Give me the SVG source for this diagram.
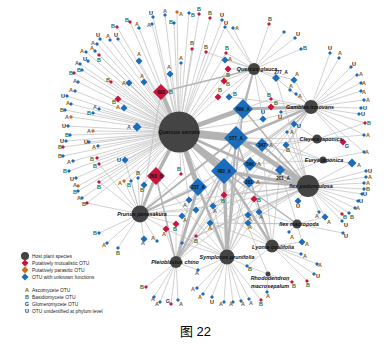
<svg xmlns="http://www.w3.org/2000/svg" xmlns:xlink="http://www.w3.org/1999/xlink" width="389" height="344" viewBox="0 0 389 344">
<style>
.e{stroke:#b8b8b8;stroke-width:.65;fill:none}
.w{stroke:#b3b3b3;fill:none}
.h{fill:#444}
.b{fill:#1c6cbc}.r{fill:#c8163c}.o{fill:#cf6a1b}
.A,.B,.U,.G{font:bold 5.5px "Liberation Sans",sans-serif;text-anchor:middle}
.A{fill:#8a5a17}.B{fill:#2f6e3f}.U{fill:#1a1a1a}.G{fill:#25308a}
.hl{font:italic bold 5.4px "Liberation Sans",sans-serif;text-anchor:middle;fill:#111}
.dl{font:bold 4.6px "Liberation Sans",sans-serif;text-anchor:middle;fill:#111}
.lg{font:4.9px "Liberation Sans",sans-serif;fill:#222}
.cap{font:13px "Liberation Sans","Noto Sans CJK SC",sans-serif;fill:#000}
</style>
<defs>
<path id="s" d="M0-2L2 0 0 2-2 0Z"/>
<path id="m" d="M0-3.5L3.5 0 0 3.5-3.5 0Z"/>
<path id="L" d="M0-4.5L4.5 0 0 4.5-4.5 0Z"/>
</defs>
<rect width="389" height="344" fill="#fff"/>
<g id="connectors">
<g id="thick">
<path class="w" stroke-width="8" d="M179 132L236 138"/>
<path class="w" stroke-width="6.5" d="M179 132L224 171"/>
<path class="w" stroke-width="5" d="M179 132L243 109"/>
<path class="w" stroke-width="5" d="M179 132L198 187"/>
<path class="w" stroke-width="4" d="M179 132L161 92"/>
<path class="w" stroke-width="3.5" d="M179 132L156 176"/>
<path class="w" stroke-width="2.5" d="M179 132L262 145M179 132L250 164"/>
<path class="w" stroke-width="2" d="M179 132L249 182"/>
<path class="w" stroke-width="5" d="M236 138L308 186"/>
<path class="w" stroke-width="3.5" d="M224 171L308 186M224 171L227 257"/>
<path class="w" stroke-width="2.5" d="M224 171L272 246M236 138L311 107M198 187L227 257M250 164L308 186"/>
<path class="w" stroke-width="3" d="M243 109L311 107M198 187L176 262M156 176L140 214"/>
<path class="w" stroke-width="2" d="M236 138L227 257M236 138L140 214M243 109L254 69M198 187L140 214M262 145L308 186M249 182L308 186M280 170L308 186M224 171L176 262"/>
<path class="w" stroke-width="1.5" d="M161 92L254 69M243 109L308 186M236 138L272 246M224 171L297 224M243 109L227 257M156 176L176 262"/>
</g>
<path id="e-QS" class="e" d="M179 132L117 27M179 132L130 22M179 132L139 28M179 132L153 17M179 132L165 15M179 132L177 12M179 132L189 13M179 132L174 23M179 132L152 24M179 132L100 39M179 132L110 40M179 132L118 39M179 132L97 44M179 132L95 51M179 132L86 52M179 132L88 61M179 132L99 55M179 132L80 64M179 132L82 70M179 132L74 73M179 132L78 82M179 132L75 91M179 132L67 96M179 132L71 104M179 132L65 110M179 132L71 117M179 132L68 126M179 132L70 135M179 132L66 141M179 132L63 147M179 132L63 156M179 132L73 161M179 132L99 164M179 132L69 171M179 132L76 178M179 132L78 186M179 132L78 191M179 132L99 182M179 132L82 198M179 132L87 203M179 132L139 61M179 132L144 82M179 132L111 82M179 132L129 83M179 132L170 74M179 132L181 63M179 132L192 49M179 132L118 99M179 132L99 109M179 132L124 108M179 132L93 113M179 132L137 127M179 132L93 131M179 132L89 142M179 132L98 146M179 132L97 158M179 132L125 160M179 132L124 181M179 132L131 181M179 132L138 178M179 132L144 185M179 132L199 14M179 132L210 18M179 132L222 20M179 132L225 27M179 132L206 52M179 132L226 53M179 132L228 69M179 132L224 81M179 132L218 97M179 132L181 174M179 132L189 200M179 132L213 206M179 132L224 195M179 132L271 99M179 132L263 119"/>
<path id="e-QG" class="e" d="M254 69L233 28M254 69L225 27M254 69L269 24M254 69L284 32M254 69L295 38M254 69L301 49M254 69L206 52M254 69L226 53M254 69L225 60M254 69L228 69M254 69L224 81M254 69L218 97M254 69L229 97M254 69L276 78M254 69L271 99M254 69L263 119M254 69L236 138M254 69L224 195M254 69L213 206M254 69L294 80"/>
<path id="e-GI" class="e" d="M311 107L330 53M311 107L339 58M311 107L351 67M311 107L357 75M311 107L361 83M311 107L361 91M311 107L364 100M311 107L361 108M311 107L359 114M311 107L365 123M311 107L364 135M311 107L343 142M311 107L364 152M311 107L294 80M311 107L290 90M311 107L296 94M311 107L271 99M311 107L271 107M311 107L281 112M311 107L263 119M311 107L294 124M311 107L287 132M311 107L286 145M311 107L276 78M311 107L262 145M311 107L224 171M311 107L189 200M311 107L213 206M311 107L182 216M311 107L254 199M311 107L229 97M311 107L198 187"/>
<path id="e-CJ" class="e" d="M317 139L343 142M317 139L364 135M317 139L365 123M317 139L286 145M317 139L294 124M317 139L236 138M317 139L262 145M317 139L210 223"/>
<path id="e-EJ" class="e" d="M323 160L352 163M323 160L364 152M323 160L286 145M323 160L250 164M323 160L236 138M323 160L196 210"/>
<path id="e-IP" class="e" d="M308 186L352 163M308 186L366 171M308 186L366 177M308 186L364 183M308 186L364 189M308 186L362 194M308 186L358 201M308 186L355 208M308 186L342 214M308 186L349 213M308 186L342 221M308 186L298 201M308 186L319 212M308 186L325 217M308 186L286 145M308 186L294 124M308 186L287 132M308 186L259 212M308 186L254 199M308 186L248 215M308 186L248 223M308 186L224 195M308 186L213 206M308 186L196 236M308 186L189 200M308 186L182 243M308 186L276 78"/>
<path id="e-IM" class="e" d="M297 224L343 233M297 224L289 232M297 224L325 217M297 224L302 242M297 224L248 223M297 224L259 212M297 224L280 170M297 224L210 223"/>
<path id="e-LO" class="e" d="M272 246L302 242M272 246L301 254M272 246L317 264M272 246L314 274M272 246L307 281M272 246L247 266M272 246L248 223M272 246L259 212M272 246L210 223M272 246L262 145M272 246L280 170M272 246L213 206M272 246L254 199"/>
<path id="e-RM" class="e" d="M268 274L292 282M268 274L267 292M268 274L247 266M268 274L224 171"/>
<path id="e-SP" class="e" d="M227 257L197 288M227 257L203 294M227 257L212 297M227 257L224 302M227 257L233 302M227 257L241 301M227 257L249 299M227 257L261 300M227 257L247 266M227 257L198 270M227 257L210 223M227 257L213 206M227 257L224 195M227 257L254 199M227 257L182 243M227 257L196 236M227 257L243 109M227 257L250 164M227 257L249 182M227 257L156 176M227 257L248 215M227 257L259 212M227 257L166 229"/>
<path id="e-PC" class="e" d="M176 262L146 287M176 262L154 297M176 262L160 302M176 262L171 304M176 262L178 300M176 262L198 270M176 262L182 243M176 262L196 236M176 262L165 229M176 262L176 224M176 262L189 200M176 262L213 206M176 262L250 164M176 262L236 138M176 262L224 195M176 262L254 199M176 262L210 223M176 262L311 107"/>
<path id="e-PJ" class="e" d="M140 214L99 233M140 214L107 243M140 214L118 248M140 214L144 239M140 214L157 241M140 214L166 229M140 214L176 224M140 214L99 164M140 214L99 182M140 214L124 181M140 214L131 181M140 214L138 178M140 214L144 185M140 214L125 160M140 214L189 200M140 214L182 216M140 214L196 210M140 214L224 171M140 214L161 92M140 214L181 174M140 214L213 206M140 214L87 203"/>
</g>
<g id="leaves">
<g id="n1"><use href="#s" x="117" y="27" class="r"/><text x="113" y="28" class="B">B</text></g>
<g id="n2"><use href="#s" x="130" y="22" class="r"/><text x="127" y="22" class="B">B</text></g>
<g id="n3"><use href="#s" x="139" y="28" class="b"/><text x="137" y="26" class="A">A</text></g>
<g id="n4"><use href="#s" x="153" y="17" class="b"/><text x="151" y="15" class="U">U</text></g>
<g id="n5"><use href="#s" x="165" y="15" class="b"/><text x="165" y="13" class="A">A</text></g>
<g id="n6"><use href="#s" x="177" y="12" class="o"/><text x="181" y="16" class="A">A</text></g>
<g id="n7"><use href="#s" x="189" y="13" class="b"/><text x="193" y="17" class="B">B</text></g>
<g id="n8"><use href="#s" x="174" y="23" class="b"/><text x="171" y="24" class="B">B</text></g>
<g id="n9"><use href="#s" x="152" y="24" class="b"/><text x="149" y="27" class="A">A</text></g>
<g id="n10"><use href="#s" x="100" y="39" class="b"/><text x="98" y="37" class="U">U</text></g>
<g id="n11"><use href="#s" x="110" y="40" class="b"/><text x="108" y="38" class="A">A</text></g>
<g id="n12"><use href="#s" x="118" y="39" class="b"/><text x="116" y="37" class="U">U</text></g>
<g id="n13"><use href="#s" x="97" y="44" class="b"/><text x="93" y="45" class="A">A</text></g>
<g id="n14"><use href="#s" x="95" y="51" class="b"/><text x="92" y="50" class="A">A</text></g>
<g id="n15"><use href="#s" x="86" y="52" class="b"/><text x="82" y="53" class="A">A</text></g>
<g id="n16"><use href="#s" x="88" y="61" class="b"/><text x="85" y="61" class="U">U</text></g>
<g id="n17"><use href="#s" x="99" y="55" class="r"/><text x="99" y="62" class="B">B</text></g>
<g id="n18"><use href="#s" x="80" y="64" class="b"/><text x="77" y="65" class="A">A</text></g>
<g id="n19"><use href="#s" x="82" y="70" class="b"/><text x="79" y="72" class="B">B</text></g>
<g id="n20"><use href="#s" x="74" y="73" class="r"/><text x="71" y="75" class="B">B</text></g>
<g id="n21"><use href="#s" x="78" y="82" class="b"/><text x="75" y="83" class="A">A</text></g>
<g id="n22"><use href="#s" x="75" y="91" class="b"/><text x="71" y="92" class="A">A</text></g>
<g id="n23"><use href="#s" x="67" y="96" class="b"/><text x="63" y="98" class="U">U</text></g>
<g id="n24"><use href="#s" x="71" y="104" class="b"/><text x="68" y="105" class="A">A</text></g>
<g id="n25"><use href="#s" x="65" y="110" class="b"/><text x="62" y="112" class="B">B</text></g>
<g id="n26"><use href="#s" x="71" y="117" class="o"/><text x="67" y="119" class="A">A</text></g>
<g id="n27"><use href="#s" x="68" y="126" class="b"/><text x="64" y="128" class="U">U</text></g>
<g id="n28"><use href="#s" x="70" y="135" class="b"/><text x="67" y="137" class="B">B</text></g>
<g id="n29"><use href="#s" x="66" y="141" class="b"/><text x="62" y="143" class="U">U</text></g>
<g id="n30"><use href="#s" x="63" y="147" class="r"/><text x="60" y="149" class="B">B</text></g>
<g id="n31"><use href="#s" x="63" y="156" class="b"/><text x="60" y="158" class="B">B</text></g>
<g id="n32"><use href="#s" x="73" y="161" class="b"/><text x="69" y="164" class="A">A</text></g>
<g id="n33"><use href="#s" x="99" y="164" class="r"/><text x="95" y="168" class="B">B</text></g>
<g id="n34"><use href="#s" x="69" y="171" class="b"/><text x="65" y="173" class="B">B</text></g>
<g id="n35"><use href="#s" x="76" y="178" class="b"/><text x="72" y="181" class="U">U</text></g>
<g id="n36"><use href="#s" x="78" y="186" class="o"/><text x="75" y="187" class="A">A</text></g>
<g id="n37"><use href="#s" x="78" y="191" class="b"/><text x="75" y="194" class="B">B</text></g>
<g id="n38"><use href="#s" x="99" y="182" class="r"/><text x="99" y="189" class="B">B</text></g>
<g id="n39"><use href="#s" x="82" y="198" class="b"/><text x="79" y="200" class="A">A</text></g>
<g id="n40"><use href="#s" x="87" y="203" class="r"/><text x="84" y="206" class="B">B</text></g>
<g id="n41"><use href="#m" x="139" y="61" class="b"/><text x="139" y="56" class="A">A</text></g>
<g id="n42"><use href="#m" x="144" y="82" class="b"/><text x="142" y="78" class="A">A</text></g>
<g id="n43"><use href="#s" x="111" y="82" class="r"/><text x="108" y="82" class="B">B</text></g>
<g id="n44"><use href="#m" x="129" y="83" class="b"/><text x="124" y="85" class="A">A</text></g>
<g id="n45"><use href="#m" x="170" y="74" class="b"/><text x="169" y="69" class="A">A</text></g>
<g id="n46"><use href="#s" x="181" y="63" class="b"/><text x="181" y="60" class="A">A</text></g>
<g id="n47"><use href="#s" x="192" y="49" class="r"/><text x="192" y="45" class="B">B</text></g>
<g id="n48"><use href="#m" x="118" y="99" class="r"/><text x="114" y="104" class="B">B</text></g>
<g id="n49"><use href="#s" x="99" y="109" class="b"/><text x="95" y="109" class="A">A</text></g>
<g id="n50"><use href="#m" x="124" y="108" class="b"/><text x="118" y="109" class="A">A</text></g>
<g id="n51"><use href="#s" x="93" y="113" class="b"/><text x="89" y="115" class="B">B</text></g>
<g id="n52"><use href="#L" x="137" y="127" class="b"/><text x="129" y="129" class="A">A</text></g>
<g id="n53"><use href="#s" x="93" y="131" class="o"/><text x="89" y="133" class="A">A</text></g>
<g id="n54"><use href="#s" x="89" y="142" class="b"/><text x="86" y="144" class="U">U</text></g>
<g id="n55"><use href="#s" x="98" y="146" class="b"/><text x="94" y="149" class="A">A</text></g>
<g id="n56"><use href="#s" x="97" y="158" class="r"/><text x="92" y="161" class="B">B</text></g>
<g id="n57"><use href="#m" x="125" y="160" class="b"/><text x="119" y="162" class="U">U</text></g>
<g id="n59"><use href="#s" x="124" y="181" class="o"/><text x="120" y="185" class="A">A</text></g>
<g id="n60"><use href="#s" x="131" y="181" class="b"/><text x="129" y="187" class="B">B</text></g>
<g id="n61"><use href="#s" x="138" y="178" class="b"/><text x="138" y="175" class="B">B</text></g>
<g id="n62"><use href="#m" x="144" y="185" class="b"/><text x="142" y="192" class="B">B</text></g>
<g id="n63"><use href="#s" x="199" y="14" class="r"/><text x="199" y="11" class="B">B</text></g>
<g id="n64"><use href="#s" x="210" y="18" class="r"/><text x="210" y="15" class="B">B</text></g>
<g id="n65"><use href="#s" x="222" y="20" class="b"/><text x="222" y="17" class="U">U</text></g>
<g id="n66"><use href="#s" x="225" y="27" class="b"/><text x="226" y="25" class="U">U</text></g>
<g id="n67"><use href="#s" x="233" y="28" class="b"/><text x="237" y="30" class="A">A</text></g>
<g id="n68"><use href="#s" x="269" y="24" class="r"/><text x="270" y="21" class="B">B</text></g>
<g id="n69"><use href="#s" x="284" y="32" class="b"/></g>
<g id="n70"><use href="#s" x="295" y="38" class="b"/><text x="298" y="36" class="U">U</text></g>
<g id="n71"><use href="#s" x="301" y="49" class="b"/><text x="305" y="50" class="B">B</text></g>
<g id="n72"><use href="#s" x="206" y="52" class="r"/><text x="206" y="49" class="B">B</text></g>
<g id="n73"><use href="#s" x="226" y="53" class="r"/><text x="227" y="50" class="B">B</text></g>
<g id="n74"><use href="#m" x="225" y="60" class="b"/><text x="230" y="61" class="A">A</text></g>
<g id="n75"><use href="#m" x="228" y="69" class="r"/><text x="228" y="77" class="B">B</text></g>
<g id="n76"><use href="#m" x="224" y="81" class="r"/><text x="228" y="86" class="B">B</text></g>
<g id="n77"><use href="#m" x="218" y="97" class="r"/><text x="220" y="92" class="B">B</text></g>
<g id="n78"><use href="#m" x="229" y="97" class="b"/><text x="235" y="96" class="B">B</text></g>
<g id="n80"><use href="#s" x="330" y="53" class="b"/><text x="330" y="50" class="U">U</text></g>
<g id="n81"><use href="#s" x="339" y="58" class="b"/><text x="340" y="55" class="A">A</text></g>
<g id="n82"><use href="#s" x="351" y="67" class="b"/><text x="354" y="66" class="U">U</text></g>
<g id="n83"><use href="#s" x="357" y="75" class="b"/><text x="361" y="76" class="A">A</text></g>
<g id="n84"><use href="#s" x="361" y="83" class="b"/><text x="364" y="85" class="A">A</text></g>
<g id="n85"><use href="#s" x="361" y="91" class="b"/><text x="364" y="94" class="A">A</text></g>
<g id="n86"><use href="#s" x="364" y="100" class="b"/><text x="368" y="102" class="A">A</text></g>
<g id="n87"><use href="#s" x="361" y="108" class="b"/><text x="365" y="110" class="U">U</text></g>
<g id="n88"><use href="#s" x="359" y="114" class="b"/><text x="363" y="116" class="U">U</text></g>
<g id="n89"><use href="#s" x="365" y="123" class="r"/><text x="369" y="125" class="B">B</text></g>
<g id="n90"><use href="#s" x="364" y="135" class="b"/><text x="368" y="137" class="A">A</text></g>
<g id="n91"><use href="#m" x="343" y="142" class="r"/><text x="347" y="148" class="G">G</text></g>
<g id="n92"><use href="#s" x="364" y="152" class="b"/><text x="367" y="154" class="A">A</text></g>
<g id="n93"><use href="#m" x="294" y="80" class="b"/><text x="297" y="76" class="A">A</text></g>
<g id="n94"><use href="#s" x="290" y="90" class="b"/><text x="291" y="88" class="A">A</text></g>
<g id="n95"><use href="#s" x="296" y="94" class="b"/><text x="300" y="98" class="A">A</text></g>
<g id="n96"><use href="#s" x="271" y="99" class="r"/><text x="269" y="97" class="B">B</text></g>
<g id="n97"><use href="#m" x="271" y="107" class="r"/><text x="276" y="105" class="B">B</text></g>
<g id="n98"><use href="#s" x="281" y="112" class="b"/><text x="280" y="119" class="U">U</text></g>
<g id="n99"><use href="#m" x="263" y="119" class="b"/><text x="263" y="114" class="U">U</text></g>
<g id="n100"><use href="#m" x="294" y="124" class="b"/><text x="299" y="128" class="U">U</text></g>
<g id="n101"><use href="#s" x="287" y="132" class="b"/><text x="292" y="134" class="A">A</text></g>
<g id="n102"><use href="#m" x="286" y="145" class="b"/><text x="288" y="152" class="B">B</text></g>
<g id="n103"><use href="#L" x="352" y="163" class="b"/><text x="359" y="167" class="A">A</text></g>
<g id="n104"><use href="#s" x="366" y="171" class="b"/><text x="370" y="173" class="U">U</text></g>
<g id="n105"><use href="#s" x="366" y="177" class="b"/><text x="370" y="179" class="A">A</text></g>
<g id="n106"><use href="#s" x="364" y="183" class="b"/><text x="368" y="185" class="A">A</text></g>
<g id="n107"><use href="#s" x="364" y="189" class="b"/><text x="368" y="191" class="B">B</text></g>
<g id="n108"><use href="#s" x="362" y="194" class="b"/><text x="365" y="196" class="U">U</text></g>
<g id="n109"><use href="#s" x="358" y="201" class="b"/><text x="361" y="203" class="U">U</text></g>
<g id="n110"><use href="#s" x="355" y="208" class="b"/><text x="358" y="210" class="A">A</text></g>
<g id="n111"><use href="#s" x="342" y="214" class="r"/><text x="345" y="219" class="B">B</text></g>
<g id="n112"><use href="#s" x="349" y="213" class="b"/><text x="352" y="219" class="B">B</text></g>
<g id="n113"><use href="#s" x="342" y="221" class="b"/><text x="346" y="227" class="U">U</text></g>
<g id="n114"><use href="#m" x="298" y="201" class="b"/><text x="298" y="208" class="U">U</text></g>
<g id="n115"><use href="#s" x="319" y="212" class="b"/><text x="317" y="218" class="A">A</text></g>
<g id="n116"><use href="#m" x="325" y="217" class="b"/><text x="329" y="224" class="A">A</text></g>
<g id="n117"><use href="#s" x="343" y="233" class="b"/><text x="346" y="238" class="U">U</text></g>
<g id="n118"><use href="#s" x="289" y="232" class="b"/><text x="292" y="239" class="A">A</text></g>
<g id="n119"><use href="#m" x="302" y="242" class="b"/><text x="307" y="246" class="A">A</text></g>
<g id="n120"><use href="#s" x="301" y="254" class="b"/><text x="305" y="258" class="A">A</text></g>
<g id="n121"><use href="#s" x="317" y="264" class="b"/><text x="320" y="267" class="A">A</text></g>
<g id="n122"><use href="#s" x="314" y="274" class="b"/><text x="318" y="278" class="U">U</text></g>
<g id="n123"><use href="#s" x="307" y="281" class="r"/><text x="308" y="287" class="B">B</text></g>
<g id="n124"><use href="#s" x="292" y="282" class="r"/><text x="294" y="288" class="B">B</text></g>
<g id="n125"><use href="#s" x="267" y="292" class="b"/><text x="268" y="298" class="A">A</text></g>
<g id="n126"><use href="#s" x="197" y="288" class="b"/><text x="193" y="291" class="A">A</text></g>
<g id="n127"><use href="#s" x="203" y="294" class="b"/><text x="200" y="299" class="A">A</text></g>
<g id="n128"><use href="#s" x="212" y="297" class="b"/><text x="212" y="304" class="U">U</text></g>
<g id="n129"><use href="#s" x="224" y="302" class="b"/><text x="221" y="306" class="A">A</text></g>
<g id="n130"><use href="#s" x="233" y="302" class="b"/><text x="231" y="306" class="A">A</text></g>
<g id="n131"><use href="#s" x="241" y="301" class="b"/><text x="243" y="306" class="A">A</text></g>
<g id="n132"><use href="#s" x="249" y="299" class="b"/><text x="251" y="305" class="A">A</text></g>
<g id="n133"><use href="#s" x="261" y="300" class="r"/><text x="261" y="306" class="B">B</text></g>
<g id="n134"><use href="#s" x="247" y="266" class="b"/><text x="250" y="271" class="B">B</text></g>
<g id="n135"><use href="#s" x="198" y="270" class="b"/><text x="197" y="275" class="A">A</text></g>
<g id="n136"><use href="#s" x="146" y="287" class="r"/><text x="142" y="289" class="B">B</text></g>
<g id="n137"><use href="#s" x="154" y="297" class="b"/><text x="153" y="301" class="A">A</text></g>
<g id="n138"><use href="#s" x="160" y="302" class="b"/><text x="157" y="306" class="A">A</text></g>
<g id="n139"><use href="#s" x="171" y="304" class="r"/><text x="168" y="303" class="G">G</text></g>
<g id="n140"><use href="#s" x="178" y="300" class="b"/><text x="181" y="306" class="A">A</text></g>
<g id="n141"><use href="#s" x="99" y="233" class="b"/><text x="95" y="235" class="B">B</text></g>
<g id="n142"><use href="#s" x="107" y="243" class="b"/><text x="104" y="247" class="A">A</text></g>
<g id="n143"><use href="#s" x="118" y="248" class="b"/><text x="118" y="255" class="B">B</text></g>
<g id="n144"><use href="#m" x="144" y="239" class="b"/><text x="143" y="245" class="A">A</text></g>
<g id="n145"><use href="#s" x="157" y="241" class="b"/><text x="153" y="240" class="A">A</text></g>
<g id="n146"><use href="#m" x="166" y="229" class="r"/><text x="164" y="236" class="A">A</text></g>
<g id="n147"><use href="#m" x="176" y="224" class="r"/><text x="175" y="231" class="B">B</text></g>
<g id="n148"><use href="#m" x="189" y="200" class="b"/><text x="185" y="207" class="A">A</text></g>
<g id="n149"><use href="#m" x="196" y="210" class="b"/></g>
<g id="n150"><use href="#m" x="182" y="216" class="b"/><text x="185" y="222" class="A">A</text></g>
<g id="n151"><use href="#m" x="213" y="206" class="b"/><text x="215" y="213" class="A">A</text></g>
<g id="n152"><use href="#m" x="210" y="223" class="b"/><text x="210" y="230" class="A">A</text></g>
<g id="n153"><use href="#m" x="224" y="195" class="r"/><text x="223" y="203" class="B">B</text></g>
<g id="n154"><use href="#m" x="254" y="199" class="r"/><text x="259" y="202" class="B">B</text></g>
<g id="n155"><use href="#m" x="259" y="212" class="b"/><text x="261" y="219" class="A">A</text></g>
<g id="n156"><use href="#m" x="248" y="215" class="b"/><text x="250" y="221" class="A">A</text></g>
<g id="n157"><use href="#m" x="248" y="223" class="b"/><text x="250" y="229" class="A">A</text></g>
<g id="n158"><use href="#s" x="196" y="236" class="r"/><text x="196" y="243" class="B">B</text></g>
<g id="n159"><use href="#s" x="182" y="243" class="b"/></g>
<g id="n160"><use href="#s" x="181" y="174" class="r"/><text x="179" y="171" class="B">B</text></g>
</g>
<g id="otus">
<g id="otu-577_A"><path class="b" d="M236 126L248 138 236 150 224 138Z"/><text x="236" y="139.6" class="dl">577_A</text></g>
<g id="otu-483_A"><path class="b" d="M224 158L237 171 224 184 211 171Z"/><text x="224" y="172.6" class="dl">483_A</text></g>
<g id="otu-699_A"><path class="b" d="M243 99L253 109 243 119 233 109Z"/><text x="243" y="110.6" class="dl">699_A</text></g>
<g id="otu-237_A"><path class="b" d="M198 178L207 187 198 196 189 187Z"/><text x="198" y="188.6" class="dl">237_A</text></g>
<g id="otu-566_A"><path class="b" d="M250 157L257 164 250 171 243 164Z"/><text x="250" y="165.6" class="dl">566</text><text x="259" y="166" class="A">A</text></g>
<g id="otu-347_A"><path class="b" d="M262 138L269 145 262 152 255 145Z"/><text x="262" y="146.6" class="dl">347</text><text x="271" y="147" class="A">A</text></g>
<g id="otu-281_A"><path class="b" d="M249 176L255 182 249 188 243 182Z"/><text x="249" y="183.6" class="dl">281</text><text x="258" y="184" class="A">A</text></g>
<g id="otu-201_A"><path class="b" d="M280 165L285 170 280 175 275 170Z"/><text x="283" y="180" class="dl">201_A</text></g>
<g id="otu-277_A"><path class="b" d="M276 74L280 78 276 82 272 78Z"/><text x="281" y="74" class="dl">277_A</text></g>
<g id="otu-693_B"><path class="r" d="M161 84L169 92 161 100 153 92Z"/><text x="161" y="93.6" class="dl">693</text><text x="171" y="94" class="B">B</text></g>
<g id="otu-263_B"><path class="r" d="M156 167L165 176 156 185 147 176Z"/><text x="156" y="177.6" class="dl">263_B</text></g>
</g>
<g id="hosts">
<g id="host-QS"><circle class="h" cx="179" cy="132" r="20.5"/><text x="179" y="134" class="hl">Quercus serrata</text></g>
<g id="host-QG"><circle class="h" cx="254" cy="69" r="6"/><text x="257" y="71" class="hl">Quercus glauca</text></g>
<g id="host-GI"><circle class="h" cx="311" cy="107" r="7"/><text x="310" y="109" class="hl">Gamblea innovans</text></g>
<g id="host-CJ"><circle class="h" cx="317" cy="139" r="4.5"/><text x="321" y="141" class="hl">Cleyera japonica</text></g>
<g id="host-EJ"><circle class="h" cx="323" cy="160" r="3.5"/><text x="324" y="162" class="hl">Eurya japonica</text></g>
<g id="host-IP"><circle class="h" cx="308" cy="186" r="11"/><text x="311" y="188" class="hl">Ilex pedunculosa</text></g>
<g id="host-IM"><circle class="h" cx="297" cy="224" r="4.5"/><text x="299" y="226" class="hl">Ilex macropoda</text></g>
<g id="host-LO"><circle class="h" cx="272" cy="246" r="6.5"/><text x="273" y="249" class="hl">Lyonia ovalifolia</text></g>
<g id="host-SP"><circle class="h" cx="227" cy="257" r="7.5"/><text x="227" y="259" class="hl">Symplocos prunifolia</text></g>
<g id="host-RM"><circle class="h" cx="268" cy="274" r="2.5"/><text x="270" y="280" class="hl">Rhododendron</text><text x="270" y="288" class="hl">macrosepalum</text></g>
<g id="host-PJ"><circle class="h" cx="140" cy="214" r="8.5"/><text x="142" y="216" class="hl">Prunus jamasakura</text></g>
<g id="host-PC"><circle class="h" cx="176" cy="262" r="6"/><text x="175" y="264" class="hl">Pleioblastus chino</text></g>
</g>
<g id="legend">
<circle class="h" cx="25" cy="256" r="4"/><text x="32" y="258" class="lg">Host plant species</text>
<use href="#m" x="25" y="263" class="r"/><text x="32" y="265" class="lg">Putatively mutualistic OTU</text>
<use href="#m" x="25" y="270" class="o"/><text x="32" y="272" class="lg">Putatively parasitic OTU</text>
<use href="#m" x="25" y="277" class="b"/><text x="32" y="279" class="lg">OTU with unknown functions</text>
<text x="27" y="292" class="A">A</text><text x="32" y="292" class="lg">Ascomycete OTU</text>
<text x="27" y="299" class="B">B</text><text x="32" y="299" class="lg">Basidiomycete OTU</text>
<text x="27" y="306" class="G">G</text><text x="32" y="306" class="lg">Glomeromycete OTU</text>
<text x="27" y="313" class="U">U</text><text x="32" y="313" class="lg">OTU unidentified at phylum level</text>
</g>
<text x="180" y="336" class="cap">图 22</text>
</svg>
